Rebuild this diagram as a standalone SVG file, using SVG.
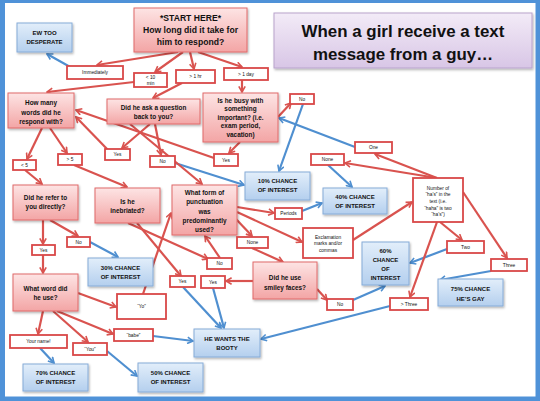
<svg xmlns="http://www.w3.org/2000/svg" width="540" height="401" viewBox="0 0 540 401">
<defs>
<linearGradient id="gp" x1="0" y1="0" x2="0" y2="1"><stop offset="0" stop-color="#fde4e4"/><stop offset="1" stop-color="#f3a5a5"/></linearGradient>
<linearGradient id="gb" x1="0" y1="0" x2="0" y2="1"><stop offset="0" stop-color="#e2eefa"/><stop offset="1" stop-color="#b4cfee"/></linearGradient>
<linearGradient id="gt" x1="0" y1="0" x2="0" y2="1"><stop offset="0" stop-color="#f3ebf7"/><stop offset="1" stop-color="#d8c6e6"/></linearGradient>
<filter id="sh" x="-15%" y="-15%" width="140%" height="150%"><feDropShadow dx="1" dy="1.5" stdDeviation="1" flood-color="#000" flood-opacity="0.3"/></filter>
<marker id="ar" viewBox="0 0 10 10" refX="8.5" refY="5" markerWidth="8" markerHeight="8" markerUnits="userSpaceOnUse" orient="auto"><path d="M1.5,1 L8.5,5 L1.5,9" fill="none" stroke="#d9534f" stroke-width="2"/></marker>
<marker id="ab" viewBox="0 0 10 10" refX="8.5" refY="5" markerWidth="8" markerHeight="8" markerUnits="userSpaceOnUse" orient="auto"><path d="M1.5,1 L8.5,5 L1.5,9" fill="none" stroke="#4f8fd0" stroke-width="2"/></marker>
</defs>
<style>
text{font-family:"Liberation Sans",Arial,sans-serif;text-anchor:middle;fill:#111}
.pk rect{fill:url(#gp);stroke:#e06a6a;stroke-width:1;filter:url(#sh)}
.pk text{font-size:6.4px;font-weight:bold}
.bl rect{fill:url(#gb);stroke:#86acd8;stroke-width:1;filter:url(#sh)}
.bl text{font-size:6px;font-weight:bold}
.lb rect{fill:#fff;stroke:#d94848;stroke-width:1.8}
.lb text{font-size:4.8px}
.r{stroke:#d9534f;stroke-width:2.2;fill:none;marker-end:url(#ar)}
.b{stroke:#4f8fd0;stroke-width:2.2;fill:none;marker-end:url(#ab)}
</style>
<rect x="0" y="0" width="540" height="401" fill="#4f92d8"/>
<rect x="5" y="3" width="530.5" height="393.5" fill="#fff"/>

<g id="connectors">
<line class="r" x1="178" y1="52" x2="97" y2="65"/>
<line class="r" x1="183" y1="52" x2="155" y2="72"/>
<line class="r" x1="190" y1="52" x2="194" y2="69"/>
<line class="r" x1="198" y1="52" x2="242" y2="67"/>
<line class="b" x1="72" y1="68" x2="47" y2="54"/>
<line class="r" x1="134" y1="82" x2="47" y2="92"/>
<line class="r" x1="182" y1="83" x2="153" y2="98"/>
<line class="r" x1="242" y1="80" x2="242" y2="92"/>
<line class="r" x1="278" y1="117" x2="291" y2="103"/>
<line class="b" x1="303" y1="104" x2="279" y2="171"/>
<line class="r" x1="240" y1="142" x2="229" y2="153"/>
<line class="r" x1="150" y1="124" x2="122" y2="148"/>
<line class="r" x1="155" y1="124" x2="161" y2="155"/>
<line class="b" x1="175" y1="163" x2="244" y2="185"/>
<line class="r" x1="214" y1="158" x2="76" y2="110"/>
<line class="r" x1="108" y1="150" x2="76" y2="117"/>
<line class="r" x1="130" y1="124" x2="202" y2="184"/>
<line class="r" x1="42" y1="128" x2="27" y2="159"/>
<line class="r" x1="50" y1="128" x2="67" y2="153"/>
<line class="r" x1="25" y1="170" x2="42" y2="184"/>
<line class="r" x1="74" y1="165" x2="127" y2="187"/>
<line class="r" x1="43" y1="220" x2="43" y2="244"/>
<line class="r" x1="50" y1="220" x2="78" y2="236"/>
<line class="b" x1="90" y1="242" x2="118" y2="257"/>
<line class="r" x1="43" y1="255" x2="43" y2="273"/>
<line class="r" x1="78" y1="293" x2="116" y2="307"/>
<line class="r" x1="143" y1="294" x2="171" y2="213"/>
<line class="r" x1="57" y1="311" x2="113" y2="334"/>
<line class="r" x1="53" y1="311" x2="88" y2="342"/>
<line class="r" x1="43" y1="311" x2="38" y2="334"/>
<line class="b" x1="153" y1="336" x2="193" y2="341"/>
<line class="b" x1="40" y1="348" x2="54" y2="363"/>
<line class="b" x1="107" y1="351" x2="137" y2="376"/>
<line class="r" x1="128" y1="223" x2="208" y2="259"/>
<line class="r" x1="220" y1="258" x2="205" y2="236"/>
<line class="r" x1="137" y1="223" x2="181" y2="276"/>
<line class="b" x1="183" y1="287" x2="221" y2="328"/>
<line class="b" x1="213" y1="288" x2="224" y2="328"/>
<line class="r" x1="253" y1="281" x2="226" y2="281"/>
<line class="r" x1="317" y1="289" x2="327" y2="300"/>
<line class="b" x1="353" y1="300" x2="385" y2="286"/>
<line class="r" x1="237" y1="207" x2="274" y2="213"/>
<line class="b" x1="302" y1="211" x2="322" y2="203"/>
<line class="r" x1="237" y1="212" x2="302" y2="242"/>
<line class="r" x1="236" y1="219" x2="252" y2="236"/>
<line class="r" x1="252" y1="248" x2="283" y2="262"/>
<line class="r" x1="353" y1="240" x2="412" y2="202"/>
<line class="r" x1="437" y1="178" x2="375" y2="154"/>
<line class="r" x1="437" y1="178" x2="345" y2="163"/>
<line class="b" x1="328" y1="165" x2="352" y2="187"/>
<line class="b" x1="355" y1="147" x2="279" y2="118"/>
<line class="r" x1="440" y1="222" x2="462" y2="240"/>
<line class="b" x1="447" y1="249" x2="410" y2="263"/>
<line class="r" x1="463" y1="192" x2="507" y2="258"/>
<line class="r" x1="437" y1="222" x2="410" y2="297"/>
<line class="b" x1="491" y1="271" x2="440" y2="280"/>
<line class="b" x1="390" y1="306" x2="261" y2="339"/>
</g>

<g id="start" class="pk"><rect x="134" y="8" width="113" height="44"/>
<text x="190.5" y="21.1" style="font-size:8.6px">*START HERE*</text><text x="190.5" y="33.1" style="font-size:8.6px">How long did it take for</text><text x="190.5" y="45.1" style="font-size:8.6px">him to respond?</text></g>

<g id="title"><rect x="274" y="13" width="258" height="55" fill="url(#gt)" stroke="#b9a3cc" stroke-width="1" filter="url(#sh)"/>
<text x="403" y="37" style="font-size:16.9px;font-weight:bold">When a girl receive a text</text><text x="403" y="60" style="font-size:16.9px;font-weight:bold">message from a guy…</text></g>

<g id="ew" class="bl"><rect x="17" y="23" width="55" height="29"/><text x="44.5" y="35.1">EW TOO</text><text x="44.5" y="44.1">DESPERATE</text></g>
<g id="immediately" class="lb"><rect x="67" y="66" width="56" height="13"/><text x="95" y="74.2">Immediately</text></g>
<g id="lt10" class="lb"><rect x="134" y="73" width="33" height="14"/><text x="150.5" y="79.2">&lt; 10</text><text x="150.5" y="85.2">min</text></g>
<g id="gt1hr" class="lb"><rect x="176" y="70" width="39" height="13"/><text x="195.5" y="78.2">&gt; 1 hr</text></g>
<g id="gt1day" class="lb"><rect x="224" y="68" width="44" height="12"/><text x="246" y="75.7">&gt; 1 day</text></g>

<g id="askq" class="pk"><rect x="107" y="99" width="93" height="25"/><text x="153.5" y="110.3">Did he ask a question</text><text x="153.5" y="119.3">back to you?</text></g>
<g id="busy" class="pk"><rect x="203" y="93" width="75" height="49"/><text x="240.5" y="102.8">Is he busy with</text><text x="240.5" y="111.3">something</text><text x="240.5" y="119.8">important? (i.e.</text><text x="240.5" y="128.3">exam period,</text><text x="240.5" y="136.8">vacation)</text></g>
<g id="nobusy" class="lb"><rect x="290" y="94" width="24" height="10"/><text x="302" y="100.7">No</text></g>
<g id="howmany" class="pk"><rect x="8" y="93" width="66" height="35"/><text x="41" y="105.3">How many</text><text x="41" y="114.8">words did he</text><text x="41" y="124.3">respond with?</text></g>

<g id="lt5" class="lb"><rect x="13" y="160" width="23" height="10"/><text x="24.5" y="166.7">&lt; 5</text></g>
<g id="gt5" class="lb"><rect x="58" y="154" width="24" height="11"/><text x="70" y="161.2">&gt; 5</text></g>
<g id="yesask" class="lb"><rect x="105" y="149" width="25" height="11"/><text x="117.5" y="156.2">Yes</text></g>
<g id="noask" class="lb"><rect x="150" y="156" width="25" height="11"/><text x="162.5" y="163.2">No</text></g>
<g id="yesbusy" class="lb"><rect x="214" y="154" width="24" height="12"/><text x="226" y="161.7">Yes</text></g>

<g id="refer" class="pk"><rect x="13" y="185" width="65" height="35"/><text x="45.5" y="200.3">Did he refer to</text><text x="45.5" y="209.3">you directly?</text></g>
<g id="inebriated" class="pk"><rect x="95" y="188" width="65" height="35"/><text x="127.5" y="204.3">Is he</text><text x="127.5" y="213.3">inebriated?</text></g>
<g id="punct" class="pk"><rect x="172" y="185" width="65" height="50"/><text x="204.5" y="195.3">What form of</text><text x="204.5" y="204.3">punctuation</text><text x="204.5" y="213.8">was</text><text x="204.5" y="223.3">predominantly</text><text x="204.5" y="232.3">used?</text></g>
<g id="c10" class="bl"><rect x="245" y="172" width="65" height="28"/><text x="277.5" y="183.1">10% CHANCE</text><text x="277.5" y="192.1">OF INTEREST</text></g>
<g id="nonetop" class="lb"><rect x="311" y="154" width="33" height="11"/><text x="327.5" y="161.2">None</text></g>
<g id="one" class="lb"><rect x="355" y="142" width="37" height="11"/><text x="373.5" y="149.2">One</text></g>
<g id="number" class="lb"><rect x="413" y="178" width="50" height="44"/><text x="438" y="189.7">Number of</text><text x="438" y="196.3">“ha’s” in the</text><text x="438" y="202.9">text (i.e.</text><text x="438" y="209.5">“haha” is two</text><text x="438" y="216.1">“ha’s”)</text></g>
<g id="c40" class="bl"><rect x="323" y="188" width="64" height="26"/><text x="355" y="199.1">40% CHANCE</text><text x="355" y="208.1">OF INTEREST</text></g>
<g id="periods" class="lb"><rect x="275" y="208" width="27" height="11"/><text x="288.5" y="215.2">Periods</text></g>
<g id="nonebot" class="lb"><rect x="237" y="237" width="31" height="11"/><text x="252.5" y="244.2">None</text></g>
<g id="excl" class="lb"><rect x="303" y="228" width="50" height="30"/><text x="328" y="238.7">Exclamation</text><text x="328" y="245.2">marks and/or</text><text x="328" y="251.7">commas</text></g>
<g id="noineb" class="lb"><rect x="207" y="258" width="25" height="11"/><text x="219.5" y="265.2">No</text></g>
<g id="smiley" class="pk"><rect x="253" y="262" width="64" height="37"/><text x="285" y="280.3">Did he use</text><text x="285" y="290.3">smiley faces?</text></g>
<g id="nosmiley" class="lb"><rect x="327" y="299" width="26" height="11"/><text x="340" y="306.2">No</text></g>
<g id="yesineb" class="lb"><rect x="170" y="276" width="25" height="11"/><text x="182.5" y="283.2">Yes</text></g>
<g id="yessmiley" class="lb"><rect x="201" y="276" width="24" height="12"/><text x="213" y="283.7">Yes</text></g>
<g id="booty" class="bl"><rect x="194" y="329" width="66" height="28"/><text x="227" y="341.1">HE WANTS THE</text><text x="227" y="350.1">BOOTY</text></g>
<g id="c60" class="bl"><rect x="362" y="242" width="47" height="43"/><text x="385.5" y="253.1">60%</text><text x="385.5" y="262.1">CHANCE</text><text x="385.5" y="271.1">OF</text><text x="385.5" y="280.1">INTEREST</text></g>
<g id="two" class="lb"><rect x="447" y="241" width="37" height="12"/><text x="465.5" y="248.7">Two</text></g>
<g id="three" class="lb"><rect x="491" y="259" width="36" height="12"/><text x="509" y="266.7">Three</text></g>
<g id="gtthree" class="lb"><rect x="390" y="298" width="38" height="12"/><text x="409" y="305.7">&gt; Three</text></g>
<g id="c75" class="bl"><rect x="438" y="279" width="65" height="27"/><text x="470.5" y="291.1">75% CHANCE</text><text x="470.5" y="301.1">HE’S GAY</text></g>
<g id="yesrefer" class="lb"><rect x="32" y="245" width="23" height="10"/><text x="43.5" y="251.7">Yes</text></g>
<g id="norefer" class="lb"><rect x="67" y="237" width="23" height="10"/><text x="78.5" y="243.7">No</text></g>
<g id="c30" class="bl"><rect x="88" y="258" width="65" height="28"/><text x="120.5" y="270.1">30% CHANCE</text><text x="120.5" y="279.1">OF INTEREST</text></g>
<g id="whatword" class="pk"><rect x="13" y="274" width="65" height="37"/><text x="45.5" y="291.3">What word did</text><text x="45.5" y="300.3">he use?</text></g>
<g id="yo" class="lb"><rect x="117" y="294" width="49" height="25"/><text x="141.5" y="308.2">“Yo”</text></g>
<g id="babe" class="lb"><rect x="114" y="329" width="39" height="12"/><text x="133.5" y="336.7">“babe”</text></g>
<g id="yourname" class="lb"><rect x="10" y="335" width="57" height="13"/><text x="38.5" y="343.2">Your name!</text></g>
<g id="you" class="lb"><rect x="73" y="343" width="34" height="12"/><text x="90" y="350.7">“You”</text></g>
<g id="c70" class="bl"><rect x="23" y="364" width="65" height="27"/><text x="55.5" y="375.1">70% CHANCE</text><text x="55.5" y="384.1">OF INTEREST</text></g>
<g id="c50" class="bl"><rect x="138" y="363" width="65" height="29"/><text x="170.5" y="375.1">50% CHANCE</text><text x="170.5" y="384.1">OF INTEREST</text></g>
</svg>
